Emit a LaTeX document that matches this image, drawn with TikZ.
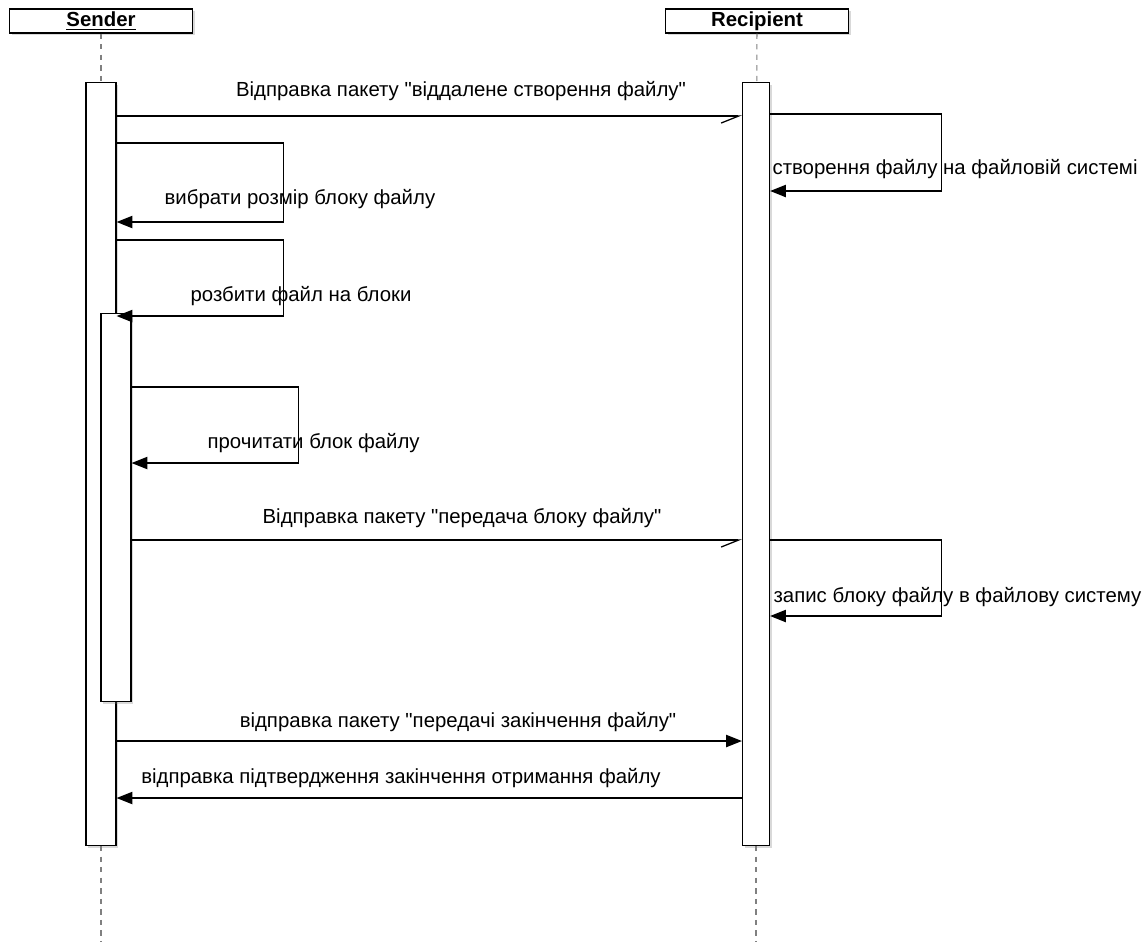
\documentclass[tikz,border=0pt]{standalone}
\usepackage{fontspec}
\setmainfont{Liberation Sans}
\usetikzlibrary{arrows.meta}
\usetikzlibrary{shadows}
\newcommand{\qq}[1]{\textquotedbl#1\textquotedbl}

\begin{document}
\begin{tikzpicture}[x=0.02cm, y=-0.02cm, line width=0.7pt,
	every node/.style={font=\fontsize{11.6}{14}\selectfont},
	obj/.style={draw, fill=white, minimum width=3.66cm, minimum height=0.48cm, inner sep=0pt,
		text height=8.5pt, text depth=2.5pt,
		drop shadow={shadow xshift=1.2pt, shadow yshift=-1.2pt, opacity=0.3}},
	act/.style={draw, fill=white, minimum width=0.6cm, inner sep=0pt, anchor=north,
		drop shadow={shadow xshift=1.2pt, shadow yshift=-1.2pt, opacity=0.3}},
	life/.style={draw=gray, dashed, line width=0.6pt},
	call/.style={-{Triangle[length=9pt,width=7pt]}},
	async/.style={-{Straight Barb[right,length=10pt,width=8pt]}},
	selflbl/.style={anchor=west, inner sep=0pt}]
	\pgfmathsetmacro{\senderx}{101}
	\pgfmathsetmacro{\recipx}{756}
	\useasboundingbox (0,0) rectangle (1146,941);
	\node[obj] (sender) at (\senderx,21) {\textbf{\underline{Sender}}};
	\node[obj] (recip) at (757,21) {\textbf{\underline{Recipient}}};
	\node[act, minimum height=15.26cm] (sact) at (\senderx,82) {};
	\node[act, minimum width=0.54cm, minimum height=15.26cm] (ract) at (\recipx,82) {};
	\node[act, minimum height=7.76cm] (sact2) at (116,313) {};
	\draw[life] (sender) -- (sact);
	\draw[life] (sact.south) -- ++(0,96);
	\draw[life] (recip) -- (ract);
	\draw[life] (ract.south) -- ++(0,96);
	\draw[async] (sact.east |- 0,116) -- (ract.west |- 0,116);
	\node (lcreate) at (461,91) {Відправка пакету \qq{віддалене створення файлу}};
	\draw[call] (ract.east |- 0,114) -- ++(171,0) -- ++(0,77) -- (ract.east |- 0,191);
	\node[selflbl] (lfs) at (772,169) {створення файлу на файловій системі};
	\draw[call] (sact.east |- 0,143) -- ++(167,0) -- ++(0,79) -- (sact.east |- 0,222);
	\node[selflbl] (lsize) at (164,199) {вибрати розмір блоку файлу};
	\draw[call] (sact.east |- 0,240) -- ++(167,0) -- ++(0,76) -- (sact.east |- 0,316);
	\node[selflbl] (lsplit) at (190,296) {розбити файл на блоки};
	\draw[call] (sact2.east |- 0,387) -- ++(167,0) -- ++(0,76) -- (sact2.east |- 0,463);
	\node[selflbl] (lread) at (207,443) {прочитати блок файлу};
	\draw[async] (sact2.east |- 0,540) -- (ract.west |- 0,540);
	\node (lsend) at (462,518) {Відправка пакету \qq{передача блоку файлу}};
	\draw[call] (ract.east |- 0,540) -- ++(171,0) -- ++(0,76) -- (ract.east |- 0,616);
	\node[selflbl] (lwrite) at (773,597) {запис блоку файлу в файлову систему};
	\draw[call] (sact.east |- 0,741) -- (ract.west |- 0,741);
	\node (lend) at (458,722) {відправка пакету \qq{передачі закінчення файлу}};
	\draw[call] (ract.west |- 0,798) -- (sact.east |- 0,798);
	\node (lack) at (401,778) {відправка підтвердження закінчення отримання файлу};
\end{tikzpicture}
\end{document}
